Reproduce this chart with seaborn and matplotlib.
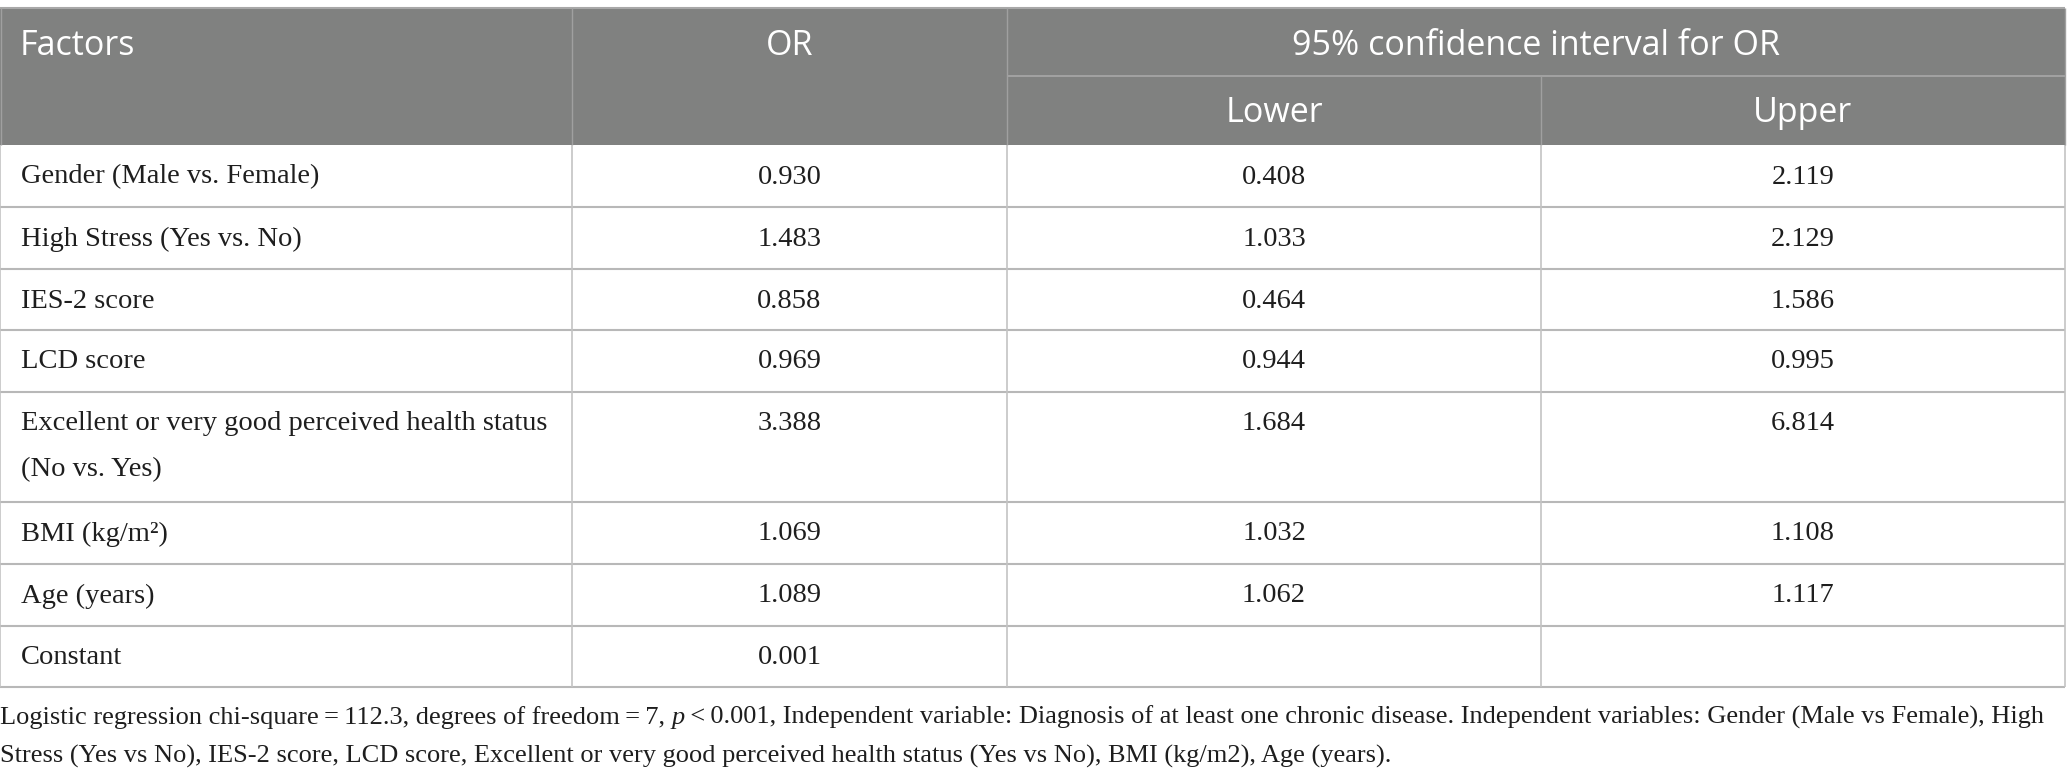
import seaborn as sns
import matplotlib.pyplot as plt
from matplotlib.patches import Rectangle

# table contents
factors = ["Gender (Male vs. Female)", "High Stress (Yes vs. No)", "IES-2 score", "LCD score",
           "Excellent or very good perceived health status\n(No vs. Yes)",
           "BMI (kg/m\u00b2)", "Age (years)", "Constant"]
or_vals = ["0.930", "1.483", "0.858", "0.969", "3.388", "1.069", "1.089", "0.001"]
lower = ["0.408", "1.033", "0.464", "0.944", "1.684", "1.032", "1.062", ""]
upper = ["2.119", "2.129", "1.586", "0.995", "6.814", "1.108", "1.117", ""]
header_top = ["Factors", "OR", "95% confidence interval for OR"]
header_sub = ["Lower", "Upper"]

note_1 = ["Logistic regression chi-square\u2009=\u2009112.3, degrees of freedom\u2009=\u20097, ",
          "p", "\u2009<\u20090.001, Independent variable: Diagnosis of at least one chronic disease. "
          "Independent variables: Gender (Male vs Female), High"]
note_2 = "Stress (Yes vs No), IES-2 score, LCD score, Excellent or very good perceived health status (Yes vs No), BMI (kg/m2), Age (years)."

# layout (pixels)
col_edges = [0, 572, 1007, 1541, 2065]
y_top, y_mid, y_head = 8, 76, 145
row_heights = [62, 62, 61, 62, 110, 62, 62, 61]

sns.set_theme(style="white")
head_font = ["Open Sans", "DejaVu Sans"]
body_font = ["Liberation Serif", "DejaVu Serif"]
HEAD_FS, BODY_FS, NOTE_FS = 24.5, 20.5, 19
ink = "#1e1e1e"

fig = plt.figure(figsize=(20.67, 7.8), dpi=100)
ax = fig.add_axes([0, 0, 1, 1])
ax.set_xlim(0, 2067)
ax.set_ylim(780, 0)
ax.axis("off")

head_col = "#808180"
grid_col = "#b8b8b8"

# header
ax.add_patch(Rectangle((col_edges[0], y_top), col_edges[-1] - col_edges[0], y_head - y_top,
                       facecolor=head_col, edgecolor="none"))
ax.hlines(y_top, col_edges[0], col_edges[-1], color="#a8a8a8", lw=1.5)
ax.hlines(y_mid, col_edges[2], col_edges[-1], color="#a8a8a8", lw=1.2)
for x in col_edges[1:3]:
    ax.vlines(x, y_top, y_head, color="#a0a0a0", lw=1)
ax.vlines(col_edges[3], y_mid, y_head, color="#a0a0a0", lw=1)

hy1 = 46
hy2 = 113
ax.text(col_edges[0] + 20, hy1, header_top[0], color="white", fontsize=HEAD_FS, family=head_font,
        ha="left", va="center")
ax.text((col_edges[1] + col_edges[2]) / 2, hy1, header_top[1], color="white", fontsize=HEAD_FS,
        family=head_font, ha="center", va="center")
ax.text((col_edges[2] + col_edges[4]) / 2, hy1, header_top[2], color="white", fontsize=HEAD_FS,
        family=head_font, ha="center", va="center")
ax.text((col_edges[2] + col_edges[3]) / 2, hy2, header_sub[0], color="white", fontsize=HEAD_FS,
        family=head_font, ha="center", va="center")
ax.text((col_edges[3] + col_edges[4]) / 2, hy2, header_sub[1], color="white", fontsize=HEAD_FS,
        family=head_font, ha="center", va="center")

# body rows
y = y_head
for name, o, lo, up, h in zip(factors, or_vals, lower, upper, row_heights):
    ty = y + 32
    for k, line in enumerate(name.split("\n")):
        ax.text(col_edges[0] + 21, ty + 46 * k, line, fontsize=BODY_FS, family=body_font,
                ha="left", va="center", color=ink)
    for val, (a, b) in zip([o, lo, up], zip(col_edges[1:], col_edges[2:])):
        ax.text((a + b) / 2, ty, val, fontsize=BODY_FS, family=body_font, ha="center",
                va="center", color=ink)
    y += h
    ax.hlines(y, col_edges[0], col_edges[-1], color=grid_col, lw=1.5)

for x in col_edges:
    ax.vlines(x, y_head, y, color="#c4c4c4", lw=1.2)
ax.vlines(col_edges[0] + 0.5, y_top, y_head, color="#a0a0a0", lw=1)
ax.vlines(col_edges[-1], y_top, y_head, color="#a0a0a0", lw=1)

# footnote
t = ax.text(0, 718, note_1[0], fontsize=NOTE_FS, family=body_font, ha="left", va="center",
            color=ink)
t = ax.annotate(note_1[1], xy=(1, 0), xycoords=t, ha="left", va="bottom", fontsize=NOTE_FS,
                family=body_font, style="italic", color=ink)
ax.annotate(note_1[2], xy=(1, 0), xycoords=t, ha="left", va="bottom", fontsize=NOTE_FS,
            family=body_font, color=ink)
ax.text(0, 756, note_2, fontsize=NOTE_FS, family=body_font, ha="left", va="center", color=ink)

fig.savefig("out.png", dpi=100, facecolor="white")
